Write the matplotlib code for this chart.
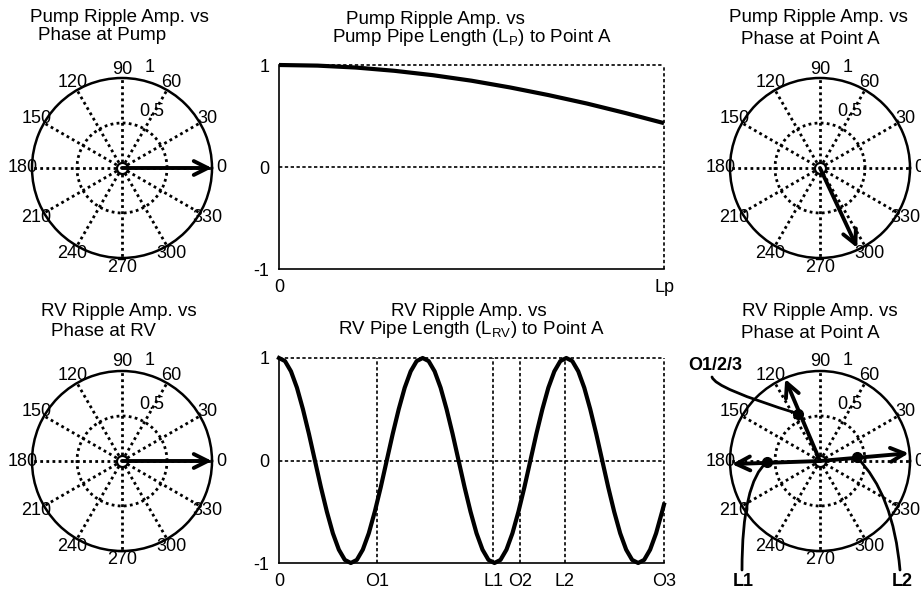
import numpy as np
import matplotlib.pyplot as plt

plt.rcParams['font.family'] = ['Liberation Sans', 'DejaVu Sans']

W, H = 921, 593

# pump ripple amplitude vs pump pipe length (fraction of Lp)
pump_len = [0.0, 0.1, 0.2, 0.3, 0.4, 0.5, 0.6, 0.7, 0.8, 0.9, 1.0]
pump_amp = [1.0, 0.994, 0.975, 0.943, 0.90, 0.846, 0.78, 0.705, 0.622, 0.529, 0.43]
pump_ticks = [0, 1]
pump_tick_labels = ['0', 'Lp']

# rv ripple amplitude vs rv pipe length (in wave cycles), sampled every 1/24 cycle
rv_step = 1 / 24
rv_amp = [1.0, 0.97, 0.87, 0.71, 0.5, 0.26, 0.0, -0.26, -0.5, -0.71, -0.87, -0.97,
          -1.0, -0.97, -0.87, -0.71, -0.5, -0.26, 0.0, 0.26, 0.5, 0.71, 0.87, 0.97,
          1.0, 0.97, 0.87, 0.71, 0.5, 0.26, 0.0, -0.26, -0.5, -0.71, -0.87, -0.97,
          -1.0, -0.97, -0.87, -0.71, -0.5, -0.26, 0.0, 0.26, 0.5, 0.71, 0.87, 0.97,
          1.0, 0.97, 0.87, 0.71, 0.5, 0.26, 0.0, -0.26, -0.5, -0.71, -0.87, -0.97,
          -1.0, -0.97, -0.87, -0.71, -0.5]
rv_end_len, rv_end_amp = 2.68, -0.43
rv_ticks = [0, 0.68, 1.49, 1.68, 1.99, 2.68]
rv_tick_labels = ['0', 'O1', 'L1', 'O2', 'L2', 'O3']

# phasors (angle in degrees, magnitude)
pump_at_pump = (0, 1.0)
pump_at_a = (295, 0.98)
rv_at_rv = (0, 1.0)
rv_at_a = {'O': (113, 0.99), 'L1': (182, 0.98), 'L2': (5, 0.99)}
rv_dots = {'O': (115, 0.58), 'L1': (181, 0.59), 'L2': (6, 0.41)}

theta_ticks = list(range(0, 360, 30))

fig = plt.figure(figsize=(W / 100, H / 100), dpi=100)


def ftext(x, y, s, **kw):
    kw.setdefault('fontsize', 13.5)
    fig.text(x / W, 1 - y / H, s, ha='center', va='center', **kw)


def polar_panel(cx, cy, r=90):
    ax = fig.add_axes([(cx - r) / W, 1 - (cy + r) / H, 2 * r / W, 2 * r / H],
                      projection='polar')
    ax.set_ylim(0, 1)
    ax.set_thetagrids(theta_ticks, labels=[])
    ax.set_rgrids([0.5], labels=[])
    ax.grid(True, color='k', linestyle=(0, (1, 1.2)), linewidth=2)
    ax.spines['polar'].set_linewidth(1.8)
    ax.tick_params(length=0)
    for a in theta_ticks:
        ax.text(np.deg2rad(a), 1.1, str(a), ha='center', va='center', fontsize=13)
    ax.text(np.deg2rad(62), 0.71, '0.5', ha='center', va='center', fontsize=13)
    ax.text(np.deg2rad(74.5), 1.16, '1', ha='center', va='center', fontsize=13)
    ax.plot(0, 0, 'o', ms=8, mfc='white', mec='k', mew=1.6, zorder=5)
    return ax


def arrow(ax, ph):
    ang, mag = ph
    ax.annotate('', xy=(np.deg2rad(ang), mag), xytext=(0, 0),
                arrowprops=dict(arrowstyle='->,head_length=1.0,head_width=0.5',
                                lw=2.8, color='k', shrinkA=0, shrinkB=0),
                zorder=6)


def line_panel(x0, y0, x1, y1):
    ax = fig.add_axes([x0 / W, 1 - y1 / H, (x1 - x0) / W, (y1 - y0) / H])
    ax.set_ylim(-1, 1)
    ax.set_yticks([-1, 0, 1], ['-1', '0', '1'])
    for s in ['top', 'right']:
        ax.spines[s].set_visible(False)
    for s in ['left', 'bottom']:
        ax.spines[s].set_linewidth(1.2)
    ax.tick_params(length=0, labelsize=13, pad=7)
    for yt in [0, 1]:
        ax.axhline(yt, color='k', lw=1.2, ls=(0, (2, 1.5)), clip_on=False)
    return ax


# top-left
ax1 = polar_panel(122, 168)
arrow(ax1, pump_at_pump)
ftext(119, 18, 'Pump Ripple Amp. vs')
ftext(102, 35, 'Phase at Pump')

# top-middle
ax2 = line_panel(279, 65, 664, 269)
ax2.plot(pump_len, pump_amp, color='k', lw=3, clip_on=False, solid_capstyle='butt')
ax2.set_xlim(0, 1)
ax2.set_xticks(pump_ticks, pump_tick_labels)
ax2.axvline(1, color='k', lw=1.2, ls=(0, (2, 1.5)), clip_on=False)
ftext(435, 20, 'Pump Ripple Amp. vs')
ftext(472, 37, r'Pump Pipe Length (L$_\mathregular{P}$) to Point A')

# top-right
ax3 = polar_panel(820, 168)
arrow(ax3, pump_at_a)
ftext(818, 18, 'Pump Ripple Amp. vs')
ftext(810, 40, 'Phase at Point A')

# bottom-left
ax4 = polar_panel(122, 461)
arrow(ax4, rv_at_rv)
ftext(119, 312, 'RV Ripple Amp. vs')
ftext(103, 332, 'Phase at RV')

# bottom-middle
ax5 = line_panel(279, 358, 664, 563)
rv_len = list(np.arange(len(rv_amp)) * rv_step) + [rv_end_len]
ax5.plot(rv_len, rv_amp + [rv_end_amp], color='k', lw=3, clip_on=False)
ax5.set_xlim(0, rv_end_len)
ax5.set_xticks(rv_ticks, rv_tick_labels)
for xt in rv_ticks[1:]:
    ax5.axvline(xt, color='k', lw=1.2, ls=(0, (2, 1.5)), clip_on=False)
ftext(469, 312, 'RV Ripple Amp. vs')
ftext(471, 329, r'RV Pipe Length (L$_\mathregular{RV}$) to Point A')

# bottom-right
ax6 = polar_panel(820, 461)
for k in ['O', 'L1', 'L2']:
    arrow(ax6, rv_at_a[k])
    ang, mag = rv_dots[k]
    ax6.plot(np.deg2rad(ang), mag, 'o', color='k', ms=7, zorder=7)
ftext(820, 312, 'RV Ripple Amp. vs')
ftext(810, 333, 'Phase at Point A')

ftext(715, 365, 'O1/2/3', fontsize=13, fontweight='bold')
ftext(743, 582, 'L1', fontsize=13, fontweight='bold')
ftext(902, 582, 'L2', fontsize=13, fontweight='bold')

leaders = [('O', (712, 377), 'angle3,angleA=-75,angleB=-17'),
           ('L1', (742, 570), 'angle3,angleA=90,angleB=40'),
           ('L2', (900, 570), 'angle3,angleA=95,angleB=-45')]
for k, (px, py), cs in leaders:
    ang, mag = rv_dots[k]
    ax6.annotate('', xy=(np.deg2rad(ang), mag), xytext=(px / W, 1 - py / H),
                 textcoords='figure fraction',
                 arrowprops=dict(arrowstyle='-', lw=2, color='k',
                                 connectionstyle=cs, shrinkA=0, shrinkB=0),
                 annotation_clip=False)

fig.savefig('out.png', dpi=100)
